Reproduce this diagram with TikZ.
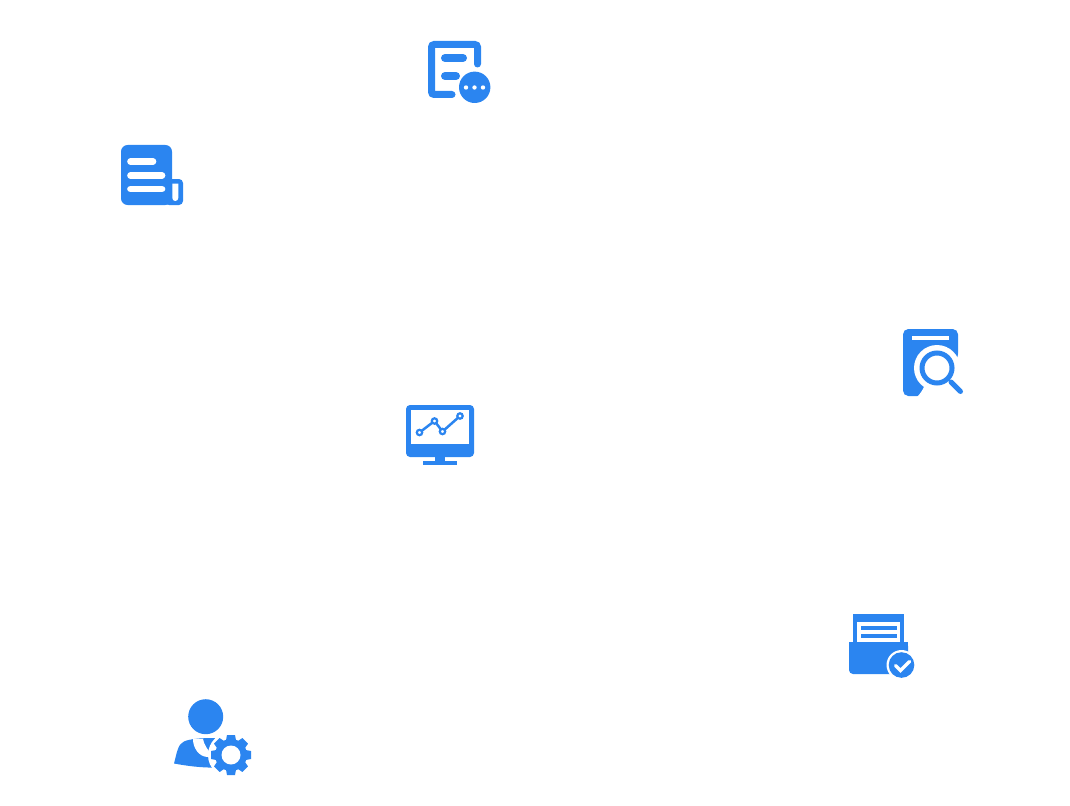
\documentclass[tikz,border=0pt]{standalone}
\definecolor{myblue}{RGB}{43,133,240}
\begin{document}
\begin{tikzpicture}[
  x=0.75pt,
  y=-0.75pt,
  myfill/.style={fill=myblue, draw=none},
  myhole/.style={fill=white, draw=none},
  mybar/.style={draw=white, line cap=round, line width=#1*0.75pt},
  myline/.style={draw=myblue, line cap=round, line width=#1*0.75pt}
]
\useasboundingbox (0,0) rectangle (1070,806);

% report with comment
\draw[myline=7, rounded corners=2pt] (452,94.5) -- (431.5,94.5) -- (431.5,44.5) -- (477.5,44.5) -- (477.5,64);
\draw[myline=8] (445,58) -- (463,58);
\draw[myline=8] (445,76) -- (456,76);
\fill[myfill] (474.7,87.3) circle (15.7);
\foreach \Valor in {466,474.5,483}
  \fill[myhole] (\Valor,87.5) circle (2.2);

% scroll
\fill[myfill, rounded corners=5pt] (121,145) rectangle (172,205);
\fill[myfill, rounded corners=3pt] (165,179) -- (183,179) -- (183,205) -- (165,205) -- cycle;
\fill[myhole] (172.3,183.5) -- (178.3,183.5) -- (178.3,198) arc (0:180:3) -- cycle;
\foreach \Valor/\Valori in {161.5/153, 175.5/162, 189/162}
  \draw[mybar=6.7] (130.5,\Valor) -- (\Valori,\Valor);

% document search
\fill[myfill, rounded corners=4pt] (903,329) rectangle (958,396);
\fill[myhole] (937,368) circle (23);
\fill[myhole] (917,397) .. controls (920,394) and (922,391) .. (924,387) -- (950,384) -- (957,358) -- (959,352) -- (960,352) -- (960,398) -- cycle;
\draw[myline=5] (937,368) circle (15);
\draw[myline=5] (951,382) -- (960.5,391.5);
\draw[mybar=3.5, line cap=butt] (912,338) -- (949,338);

% monitor
\fill[myfill, rounded corners=3pt] (406,405) rectangle (474,457);
\fill[myhole] (411,410) rectangle (469,444);
\fill[myfill] (435,455) rectangle (445,462);
\fill[myfill] (423,461) rectangle (457,465);
\draw[myline=2.5] (419.5,432.5) -- (434.5,421) -- (442.5,431.5) -- (460,416);
\foreach \Valor/\Valori in {419.5/432.5, 434.5/421, 442.5/431.5, 460/416}
  \draw[myline=2.2, fill=white] (\Valor,\Valori) circle (2.7);

% box with check
\fill[myfill] (853,614) rectangle (904,644);
\fill[myhole] (857,622) rectangle (900,642);
\fill[myfill] (861,626) rectangle (897,630);
\fill[myfill] (861,634) rectangle (897,638);
\fill[myfill, rounded corners=3pt] (849,642) -- (908,642) -- (908,674) -- (849,674) -- cycle;
\fill[myfill] (849,642) rectangle (908,650);
\fill[myhole] (901.5,665) circle (15);
\fill[myfill] (901.5,665) circle (12.8);
\draw[mybar=3.5] (895.5,665.5) -- (900.5,670.5) -- (909.5,661.5);

% user with gear
\fill[myfill] (205.7,716.7) circle (17.5);
\fill[myfill] (174,763.5) .. controls (177,752) and (178,744) .. (184,741.5)
  .. controls (189,739) and (200,738) .. (215,738) -- (215,768) -- (208,767.5)
  .. controls (195,767) and (185,765.5) .. (174,763.5) -- cycle;
\fill[myhole] (193,739) -- (203,739) .. controls (204,745) and (208,750) .. (214,758)
  -- (208,757) .. controls (199,757) and (193,748) .. (193,739) -- cycle;
\fill[myhole] (231,755) circle (23);
\fill[myfill] (231,755) circle (16);
\foreach \Valori in {0,45,...,315}
  \fill[myfill, rotate around={\Valori:(231,755)}] (227,735) -- (235,735) -- (236.5,743) -- (225.5,743) -- cycle;
\fill[myhole] (231,755) circle (9.5);

\end{tikzpicture}
\end{document}
